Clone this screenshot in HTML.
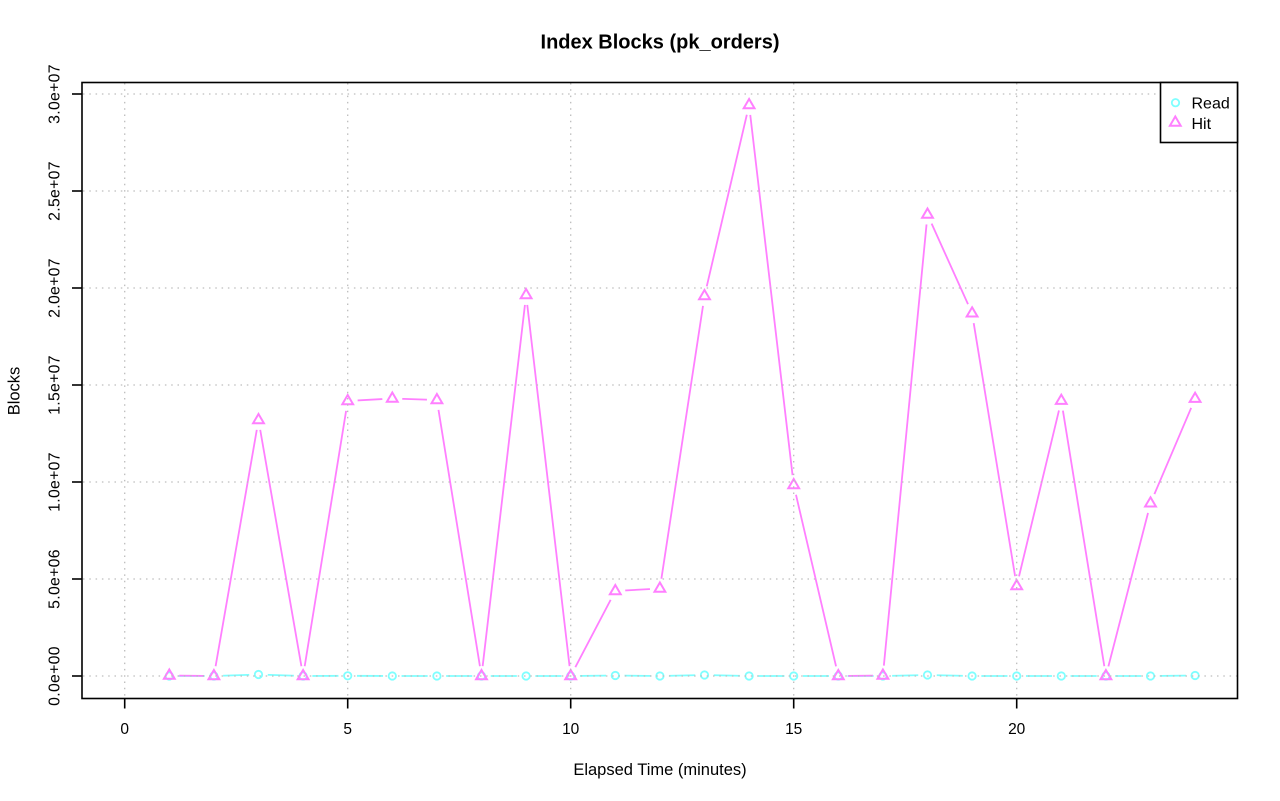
<!DOCTYPE html>
<html><head><meta charset="utf-8"><style>
html,body{margin:0;padding:0;background:#fff;}
svg{display:block;font-family:"Liberation Sans",Arial,sans-serif;}
</style></head><body>
<svg width="1280" height="801" viewBox="0 0 1280 801" xmlns="http://www.w3.org/2000/svg">
<rect width="1280" height="801" fill="#fff"/>
<defs>
<mask id="mh" maskUnits="userSpaceOnUse" x="0" y="0" width="1280" height="801">
<rect width="1280" height="801" fill="#fff"/>
<g fill="#000">
<circle cx="169.3" cy="675.5" r="10"/><circle cx="213.9" cy="676" r="10"/><circle cx="258.5" cy="420" r="10"/><circle cx="303.1" cy="676" r="10"/><circle cx="347.7" cy="401" r="10"/><circle cx="392.3" cy="398.5" r="10"/><circle cx="436.9" cy="400" r="10"/><circle cx="481.5" cy="676" r="10"/><circle cx="526.1" cy="295" r="10"/><circle cx="570.7" cy="676" r="10"/><circle cx="615.3" cy="591" r="10"/><circle cx="659.9" cy="588.5" r="10"/><circle cx="704.5" cy="296" r="10"/><circle cx="749.1" cy="105" r="10"/><circle cx="793.7" cy="485" r="10"/><circle cx="838.3" cy="676" r="10"/><circle cx="882.9" cy="675.5" r="10"/><circle cx="927.5" cy="214.5" r="10"/><circle cx="972.1" cy="313.3" r="10"/><circle cx="1016.7" cy="586" r="10"/><circle cx="1061.3" cy="400.7" r="10"/><circle cx="1105.9" cy="676" r="10"/><circle cx="1150.5" cy="503.3" r="10"/><circle cx="1195.1" cy="398.7" r="10"/>
</g>
</mask>
<mask id="mr" maskUnits="userSpaceOnUse" x="0" y="0" width="1280" height="801">
<rect width="1280" height="801" fill="#fff"/>
<g fill="#000">
<circle cx="169.3" cy="676" r="9.3"/><circle cx="213.9" cy="676" r="9.3"/><circle cx="258.5" cy="674.5" r="9.3"/><circle cx="303.1" cy="676" r="9.3"/><circle cx="347.7" cy="675.8" r="9.3"/><circle cx="392.3" cy="676" r="9.3"/><circle cx="436.9" cy="676" r="9.3"/><circle cx="481.5" cy="676" r="9.3"/><circle cx="526.1" cy="676" r="9.3"/><circle cx="570.7" cy="676" r="9.3"/><circle cx="615.3" cy="675.5" r="9.3"/><circle cx="659.9" cy="676" r="9.3"/><circle cx="704.5" cy="675" r="9.3"/><circle cx="749.1" cy="676" r="9.3"/><circle cx="793.7" cy="676" r="9.3"/><circle cx="838.3" cy="676" r="9.3"/><circle cx="882.9" cy="676" r="9.3"/><circle cx="927.5" cy="675" r="9.3"/><circle cx="972.1" cy="676" r="9.3"/><circle cx="1016.7" cy="676" r="9.3"/><circle cx="1061.3" cy="676" r="9.3"/><circle cx="1105.9" cy="676" r="9.3"/><circle cx="1150.5" cy="676" r="9.3"/><circle cx="1195.1" cy="675.5" r="9.3"/>
</g>
</mask>
</defs>

<!-- Read series -->
<polyline mask="url(#mr)" fill="none" stroke="#7fffff" stroke-width="1.8" points="169.3,676 213.9,676 258.5,674.5 303.1,676 347.7,675.8 392.3,676 436.9,676 481.5,676 526.1,676 570.7,676 615.3,675.5 659.9,676 704.5,675 749.1,676 793.7,676 838.3,676 882.9,676 927.5,675 972.1,676 1016.7,676 1061.3,676 1105.9,676 1150.5,676 1195.1,675.5"/>
<g fill="none" stroke="#7fffff" stroke-width="1.8">
<circle cx="169.3" cy="676" r="3.7"/><circle cx="213.9" cy="676" r="3.7"/><circle cx="258.5" cy="674.5" r="3.7"/><circle cx="303.1" cy="676" r="3.7"/><circle cx="347.7" cy="675.8" r="3.7"/><circle cx="392.3" cy="676" r="3.7"/><circle cx="436.9" cy="676" r="3.7"/><circle cx="481.5" cy="676" r="3.7"/><circle cx="526.1" cy="676" r="3.7"/><circle cx="570.7" cy="676" r="3.7"/><circle cx="615.3" cy="675.5" r="3.7"/><circle cx="659.9" cy="676" r="3.7"/><circle cx="704.5" cy="675" r="3.7"/><circle cx="749.1" cy="676" r="3.7"/><circle cx="793.7" cy="676" r="3.7"/><circle cx="838.3" cy="676" r="3.7"/><circle cx="882.9" cy="676" r="3.7"/><circle cx="927.5" cy="675" r="3.7"/><circle cx="972.1" cy="676" r="3.7"/><circle cx="1016.7" cy="676" r="3.7"/><circle cx="1061.3" cy="676" r="3.7"/><circle cx="1105.9" cy="676" r="3.7"/><circle cx="1150.5" cy="676" r="3.7"/><circle cx="1195.1" cy="675.5" r="3.7"/>
</g>

<!-- Hit series -->
<polyline mask="url(#mh)" fill="none" stroke="#ff7fff" stroke-width="1.8" points="169.3,675.5 213.9,676 258.5,420 303.1,676 347.7,401 392.3,398.5 436.9,400 481.5,676 526.1,295 570.7,676 615.3,591 659.9,588.5 704.5,296 749.1,105 793.7,485 838.3,676 882.9,675.5 927.5,214.5 972.1,313.3 1016.7,586 1061.3,400.7 1105.9,676 1150.5,503.3 1195.1,398.7"/>
<g fill="none" stroke="#ff7fff" stroke-width="2" stroke-linejoin="miter">
<path d="M169.3 669.5 L174.7 678.7 L163.9 678.7 Z"/>
<path d="M213.9 670 L219.3 679.2 L208.5 679.2 Z"/>
<path d="M258.5 414 L263.9 423.2 L253.1 423.2 Z"/>
<path d="M303.1 670 L308.5 679.2 L297.7 679.2 Z"/>
<path d="M347.7 395 L353.1 404.2 L342.3 404.2 Z"/>
<path d="M392.3 392.5 L397.7 401.7 L386.9 401.7 Z"/>
<path d="M436.9 394 L442.3 403.2 L431.5 403.2 Z"/>
<path d="M481.5 670 L486.9 679.2 L476.1 679.2 Z"/>
<path d="M526.1 289 L531.5 298.2 L520.7 298.2 Z"/>
<path d="M570.7 670 L576.1 679.2 L565.3 679.2 Z"/>
<path d="M615.3 585 L620.7 594.2 L609.9 594.2 Z"/>
<path d="M659.9 582.5 L665.3 591.7 L654.5 591.7 Z"/>
<path d="M704.5 290 L709.9 299.2 L699.1 299.2 Z"/>
<path d="M749.1 99 L754.5 108.2 L743.7 108.2 Z"/>
<path d="M793.7 479 L799.1 488.2 L788.3 488.2 Z"/>
<path d="M838.3 670 L843.7 679.2 L832.9 679.2 Z"/>
<path d="M882.9 669.5 L888.3 678.7 L877.5 678.7 Z"/>
<path d="M927.5 208.5 L932.9 217.7 L922.1 217.7 Z"/>
<path d="M972.1 307.3 L977.5 316.5 L966.7 316.5 Z"/>
<path d="M1016.7 580 L1022.1 589.2 L1011.3 589.2 Z"/>
<path d="M1061.3 394.7 L1066.7 403.9 L1055.9 403.9 Z"/>
<path d="M1105.9 670 L1111.3 679.2 L1100.5 679.2 Z"/>
<path d="M1150.5 497.3 L1155.9 506.5 L1145.1 506.5 Z"/>
<path d="M1195.1 392.7 L1200.5 401.9 L1189.7 401.9 Z"/>
</g>

<!-- grid (drawn on top, as in R grid()) -->
<g stroke="#bdbdbd" stroke-width="1.3" stroke-dasharray="1.5 4.8" fill="none">
<line x1="124.7" y1="83" x2="124.7" y2="698"/>
<line x1="347.7" y1="83" x2="347.7" y2="698"/>
<line x1="570.7" y1="83" x2="570.7" y2="698"/>
<line x1="793.7" y1="83" x2="793.7" y2="698"/>
<line x1="1016.7" y1="83" x2="1016.7" y2="698"/>
<line x1="83" y1="676" x2="1237" y2="676"/>
<line x1="83" y1="579" x2="1237" y2="579"/>
<line x1="83" y1="482" x2="1237" y2="482"/>
<line x1="83" y1="385" x2="1237" y2="385"/>
<line x1="83" y1="288" x2="1237" y2="288"/>
<line x1="83" y1="191" x2="1237" y2="191"/>
<line x1="83" y1="94" x2="1160" y2="94"/>
</g>

<!-- plot box -->
<rect x="82" y="82.5" width="1155.5" height="616" fill="none" stroke="#000" stroke-width="1.6"/>

<!-- ticks -->
<g stroke="#000" stroke-width="1.6">
<line x1="124.7" y1="698.5" x2="124.7" y2="708.5"/>
<line x1="347.7" y1="698.5" x2="347.7" y2="708.5"/>
<line x1="570.7" y1="698.5" x2="570.7" y2="708.5"/>
<line x1="793.7" y1="698.5" x2="793.7" y2="708.5"/>
<line x1="1016.7" y1="698.5" x2="1016.7" y2="708.5"/>
<line x1="72" y1="676" x2="82" y2="676"/>
<line x1="72" y1="579" x2="82" y2="579"/>
<line x1="72" y1="482" x2="82" y2="482"/>
<line x1="72" y1="385" x2="82" y2="385"/>
<line x1="72" y1="288" x2="82" y2="288"/>
<line x1="72" y1="191" x2="82" y2="191"/>
<line x1="72" y1="94" x2="82" y2="94"/>
</g>

<!-- tick labels -->
<g font-size="15.5" fill="#000" text-anchor="middle">
<text x="124.7" y="734">0</text>
<text x="347.7" y="734">5</text>
<text x="570.7" y="734">10</text>
<text x="793.7" y="734">15</text>
<text x="1016.7" y="734">20</text>
</g>
<g font-size="15.8" fill="#000" text-anchor="middle" letter-spacing="0.3">
<text transform="translate(59.5,676) rotate(-90)">0.0e+00</text>
<text transform="translate(59.5,579) rotate(-90)">5.0e+06</text>
<text transform="translate(59.5,482) rotate(-90)">1.0e+07</text>
<text transform="translate(59.5,385) rotate(-90)">1.5e+07</text>
<text transform="translate(59.5,288) rotate(-90)">2.0e+07</text>
<text transform="translate(59.5,191) rotate(-90)">2.5e+07</text>
<text transform="translate(59.5,94) rotate(-90)">3.0e+07</text>
</g>

<!-- axis labels & title -->
<text x="660" y="48.5" font-size="20" font-weight="bold" text-anchor="middle" fill="#000">Index Blocks (pk_orders)</text>
<text x="660" y="775" font-size="16.5" text-anchor="middle" fill="#000">Elapsed Time (minutes)</text>
<text transform="translate(19.3,391) rotate(-90)" font-size="16.5" text-anchor="middle" fill="#000">Blocks</text>

<!-- legend -->
<rect x="1160.5" y="82.5" width="77" height="60" fill="#fff" stroke="#000" stroke-width="1.6"/>
<circle cx="1175.5" cy="102.7" r="3.7" fill="none" stroke="#7fffff" stroke-width="1.8"/>
<path d="M1175.3 116.5 L1180.7 125.7 L1169.9 125.7 Z" fill="none" stroke="#ff7fff" stroke-width="2"/>
<text x="1191.5" y="108.7" font-size="16" fill="#000">Read</text>
<text x="1191.5" y="129" font-size="16" fill="#000">Hit</text>
</svg>
</body></html>
